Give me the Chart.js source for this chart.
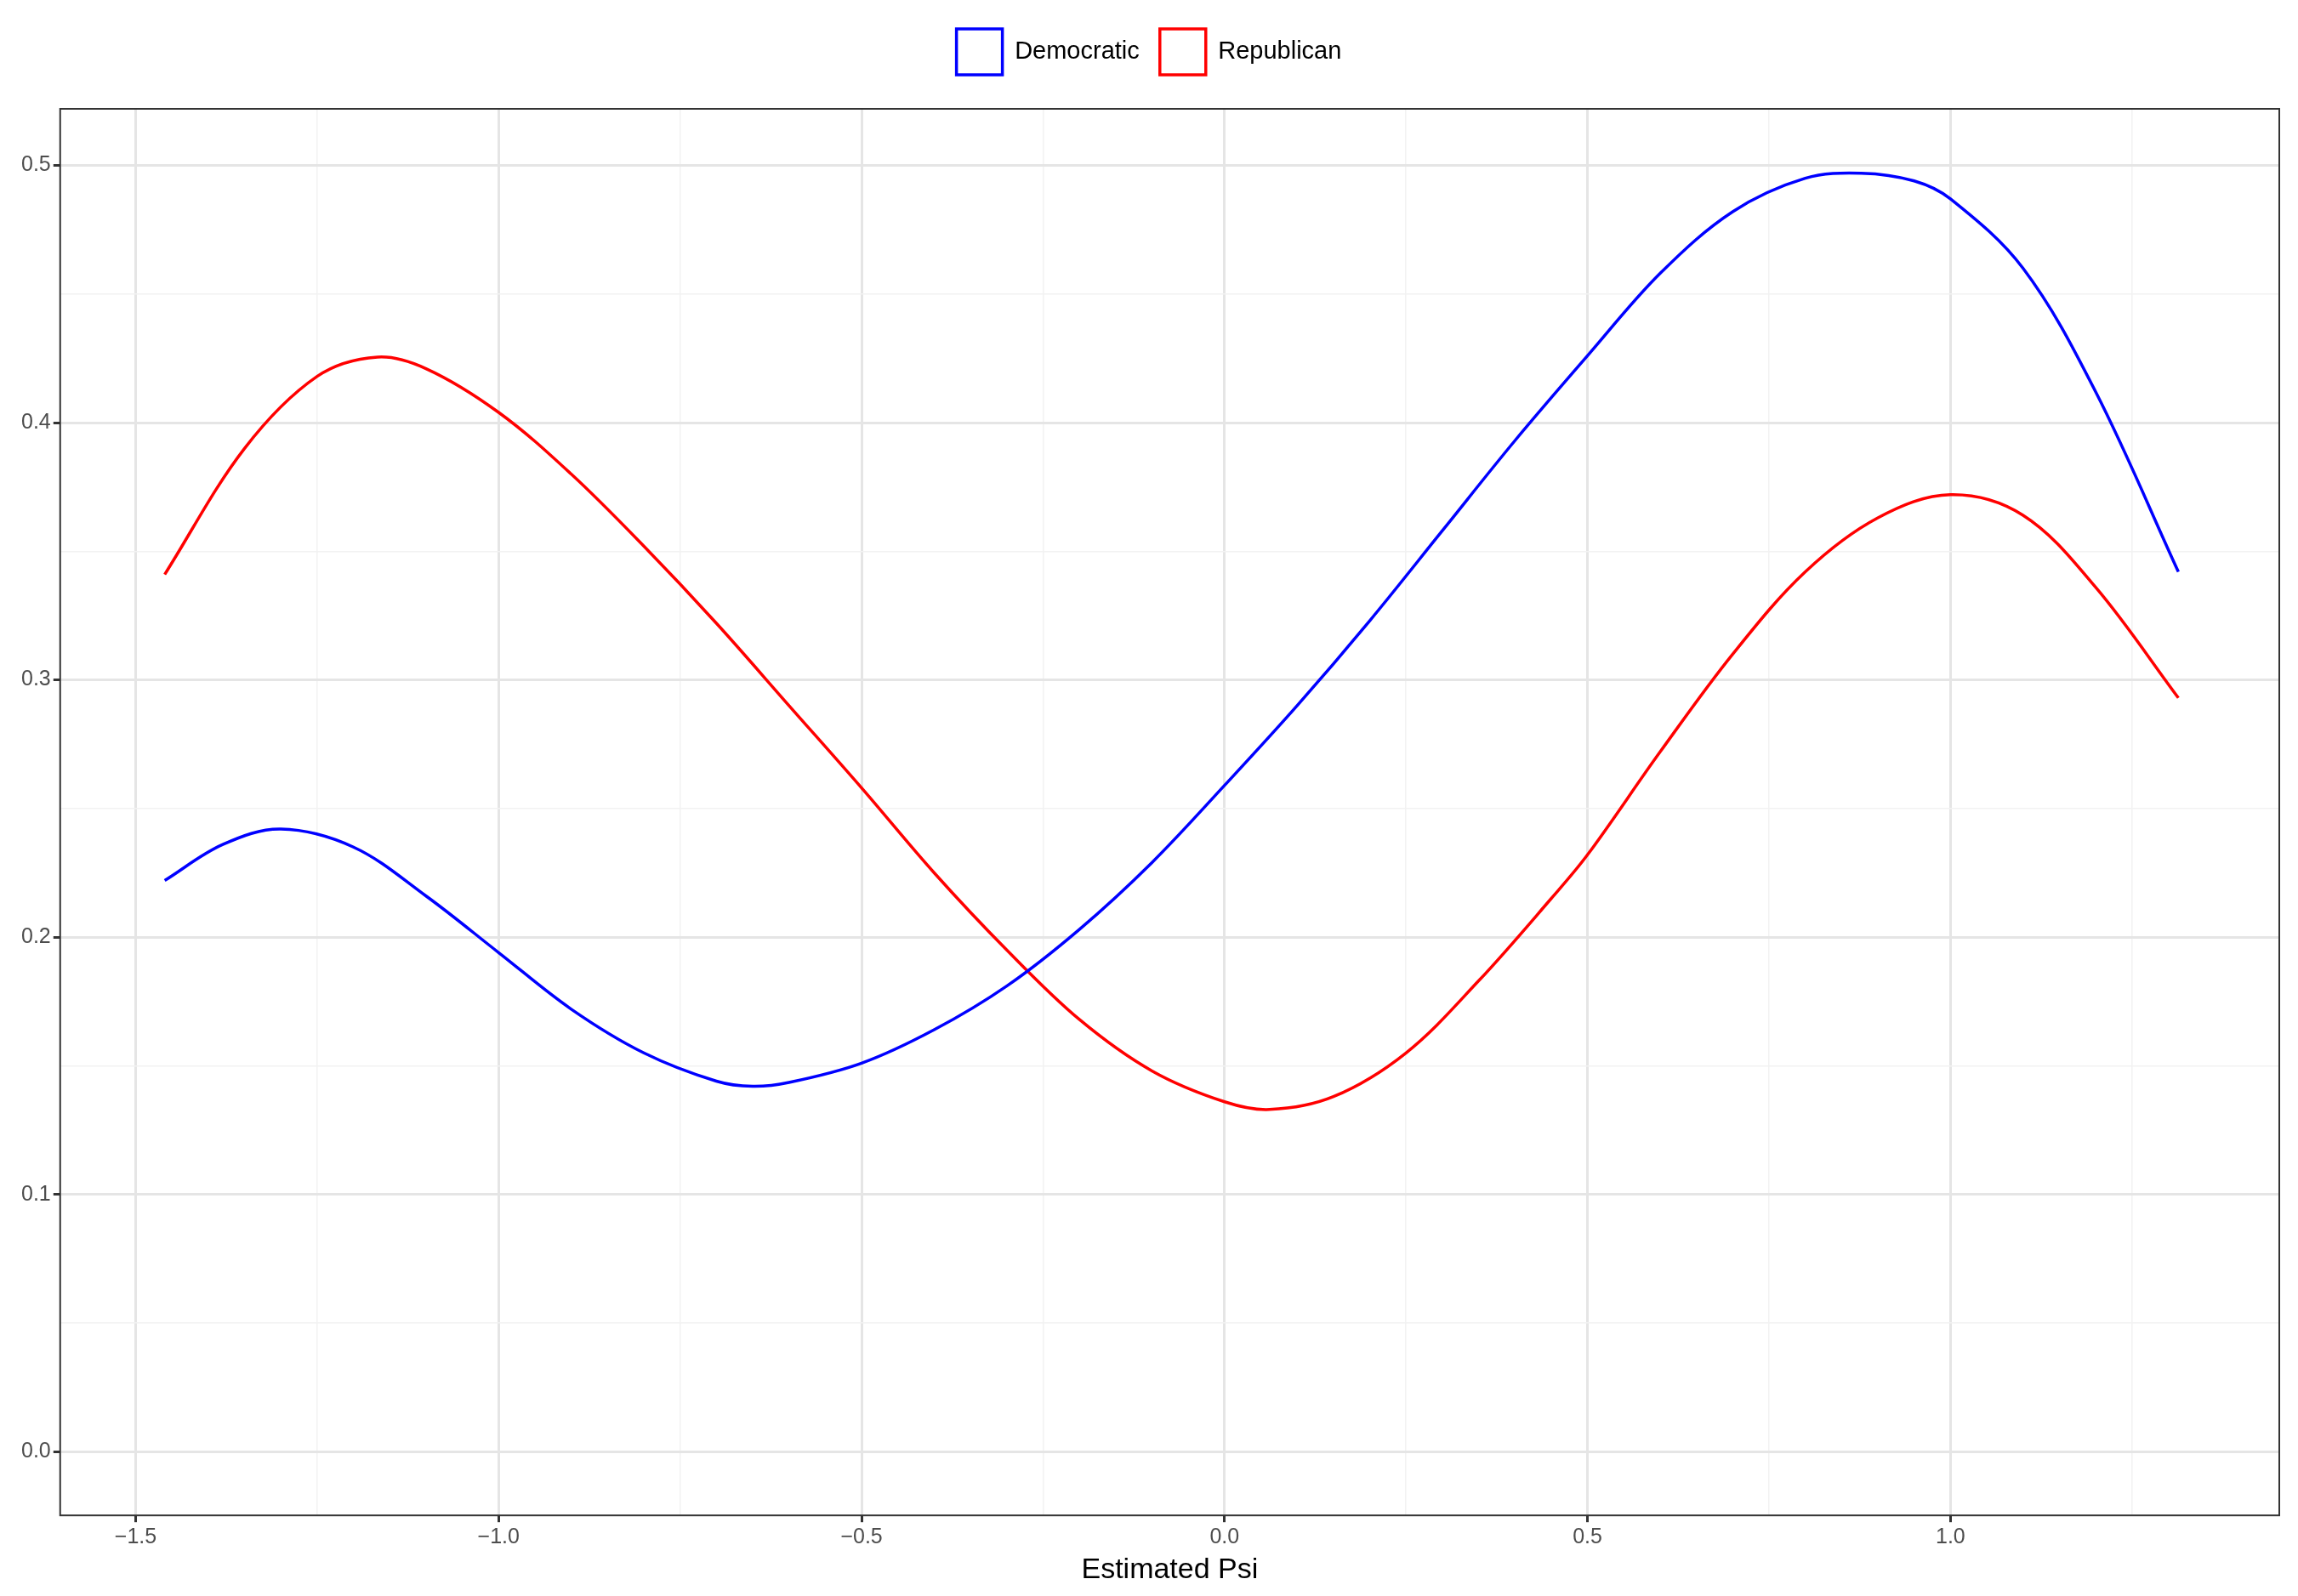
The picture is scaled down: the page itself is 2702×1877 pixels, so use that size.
<!DOCTYPE html>
<html>
<head>
<meta charset="utf-8">
<script src="https://cdn.jsdelivr.net/npm/chart.js@4"></script>
<style>
  html, body { margin: 0; padding: 0; background: #fff; }
  #wrap { width: 2702px; height: 1877px; }
</style>
</head>
<body>
<div id="wrap"><canvas id="psiChart"></canvas></div>
<script>
const demX = [-1.46, -1.38, -1.30, -1.20, -1.10, -1.00, -0.90, -0.80, -0.70, -0.65, -0.60, -0.50, -0.40, -0.30, -0.20, -0.10, 0.00, 0.10, 0.20, 0.30, 0.40, 0.50, 0.60, 0.70, 0.80, 0.877, 0.95, 1.00, 1.10, 1.20, 1.314];
const demY = [0.222, 0.236, 0.242, 0.235, 0.216, 0.194, 0.172, 0.155, 0.144, 0.142, 0.1435, 0.151, 0.164, 0.181, 0.203, 0.229, 0.259, 0.290, 0.323, 0.358, 0.393, 0.426, 0.458, 0.482, 0.495, 0.497, 0.494, 0.487, 0.460, 0.412, 0.342];
const repX = [-1.46, -1.35, -1.25, -1.167, -1.10, -1.00, -0.90, -0.80, -0.70, -0.60, -0.50, -0.40, -0.30, -0.20, -0.10, 0.00, 0.062, 0.15, 0.25, 0.35, 0.45, 0.50, 0.60, 0.70, 0.80, 0.90, 1.00, 1.10, 1.20, 1.314];
const repY = [0.341, 0.390, 0.418, 0.4255, 0.421, 0.404, 0.380, 0.352, 0.322, 0.290, 0.258, 0.225, 0.195, 0.168, 0.148, 0.136, 0.133, 0.138, 0.155, 0.183, 0.215, 0.232, 0.272, 0.310, 0.342, 0.363, 0.372, 0.364, 0.336, 0.293];
const xTicks = [-1.5, -1.25, -1.0, -0.75, -0.5, -0.25, 0.0, 0.25, 0.5, 0.75, 1.0, 1.25];
const yTicks = [0.0, 0.05, 0.1, 0.15, 0.2, 0.25, 0.3, 0.35, 0.4, 0.45, 0.5];

const toPoints = (xs, ys) => xs.map((x, i) => ({ x: x, y: ys[i] }));
const isMajor = (v, step) => Math.abs(v / step - Math.round(v / step)) < 1e-6;
const fmt = (v, d) => v.toFixed(d).replace('-', '\u2212');

// frame around the plot panel
const frame = {
  id: 'frame',
  afterDraw(chart) {
    const a = chart.chartArea, c = chart.ctx;
    c.save();
    c.strokeStyle = '#333';
    c.lineWidth = 2;
    c.strokeRect(a.left, a.top, a.right - a.left, a.bottom - a.top);
    c.restore();
  }
};

// extra space under the legend
const legendGap = {
  id: 'legendGap',
  beforeInit(chart) {
    const fit = chart.legend.fit;
    chart.legend.fit = function () { fit.bind(chart.legend)(); this.height += 30; };
  }
};

Chart.defaults.font.family = 'Liberation Sans, Arial, sans-serif';
Chart.defaults.color = '#4d4d4d';

new Chart(document.getElementById('psiChart'), {
  type: 'line',
  data: {
    datasets: [
      { label: 'Democratic', data: toPoints(demX, demY), borderColor: 'blue', backgroundColor: '#fff', borderWidth: 3.5, pointRadius: 0, tension: 0.35 },
      { label: 'Republican', data: toPoints(repX, repY), borderColor: 'red', backgroundColor: '#fff', borderWidth: 3.5, pointRadius: 0, tension: 0.35 }
    ]
  },
  options: {
    responsive: true,
    maintainAspectRatio: false,
    devicePixelRatio: 1,
    animation: false,
    layout: { padding: { left: 22, right: 22, top: 10, bottom: 6 } },
    plugins: {
      legend: {
        position: 'top',
        labels: { boxWidth: 54, boxHeight: 54, padding: 24, color: '#000', font: { size: 29 } }
      },
      tooltip: { enabled: false }
    },
    scales: {
      x: {
        type: 'linear',
        min: -1.604,
        max: 1.453,
        afterBuildTicks: (s) => { s.ticks = xTicks.map(v => ({ value: v })); },
        ticks: { font: { size: 25 }, color: '#4d4d4d', autoSkip: false, maxRotation: 0,
          callback: (v) => isMajor(v, 0.5) ? fmt(v, 1) : '' },
        grid: { color: (c) => isMajor(c.tick.value, 0.5) ? '#e5e5e5' : '#f2f2f2', lineWidth: (c) => isMajor(c.tick.value, 0.5) ? 3 : 1.5, tickLength: 8,
          tickColor: (c) => isMajor(c.tick.value, 0.5) ? '#333' : 'rgba(0,0,0,0)' },
        border: { display: false },
        title: { display: true, text: 'Estimated Psi', color: '#000', font: { size: 34 }, padding: { top: 0 } }
      },
      y: {
        min: -0.0248,
        max: 0.522,
        afterBuildTicks: (s) => { s.ticks = yTicks.map(v => ({ value: v })); },
        ticks: { font: { size: 25 }, color: '#4d4d4d', autoSkip: false,
          callback: (v) => isMajor(v, 0.1) ? fmt(v, 1) : '' },
        grid: { color: (c) => isMajor(c.tick.value, 0.1) ? '#e5e5e5' : '#f2f2f2', lineWidth: (c) => isMajor(c.tick.value, 0.1) ? 3 : 1.5, tickLength: 8,
          tickColor: (c) => isMajor(c.tick.value, 0.1) ? '#333' : 'rgba(0,0,0,0)' },
        border: { display: false }
      }
    }
  },
  plugins: [frame, legendGap]
});
</script>
</body>
</html>
